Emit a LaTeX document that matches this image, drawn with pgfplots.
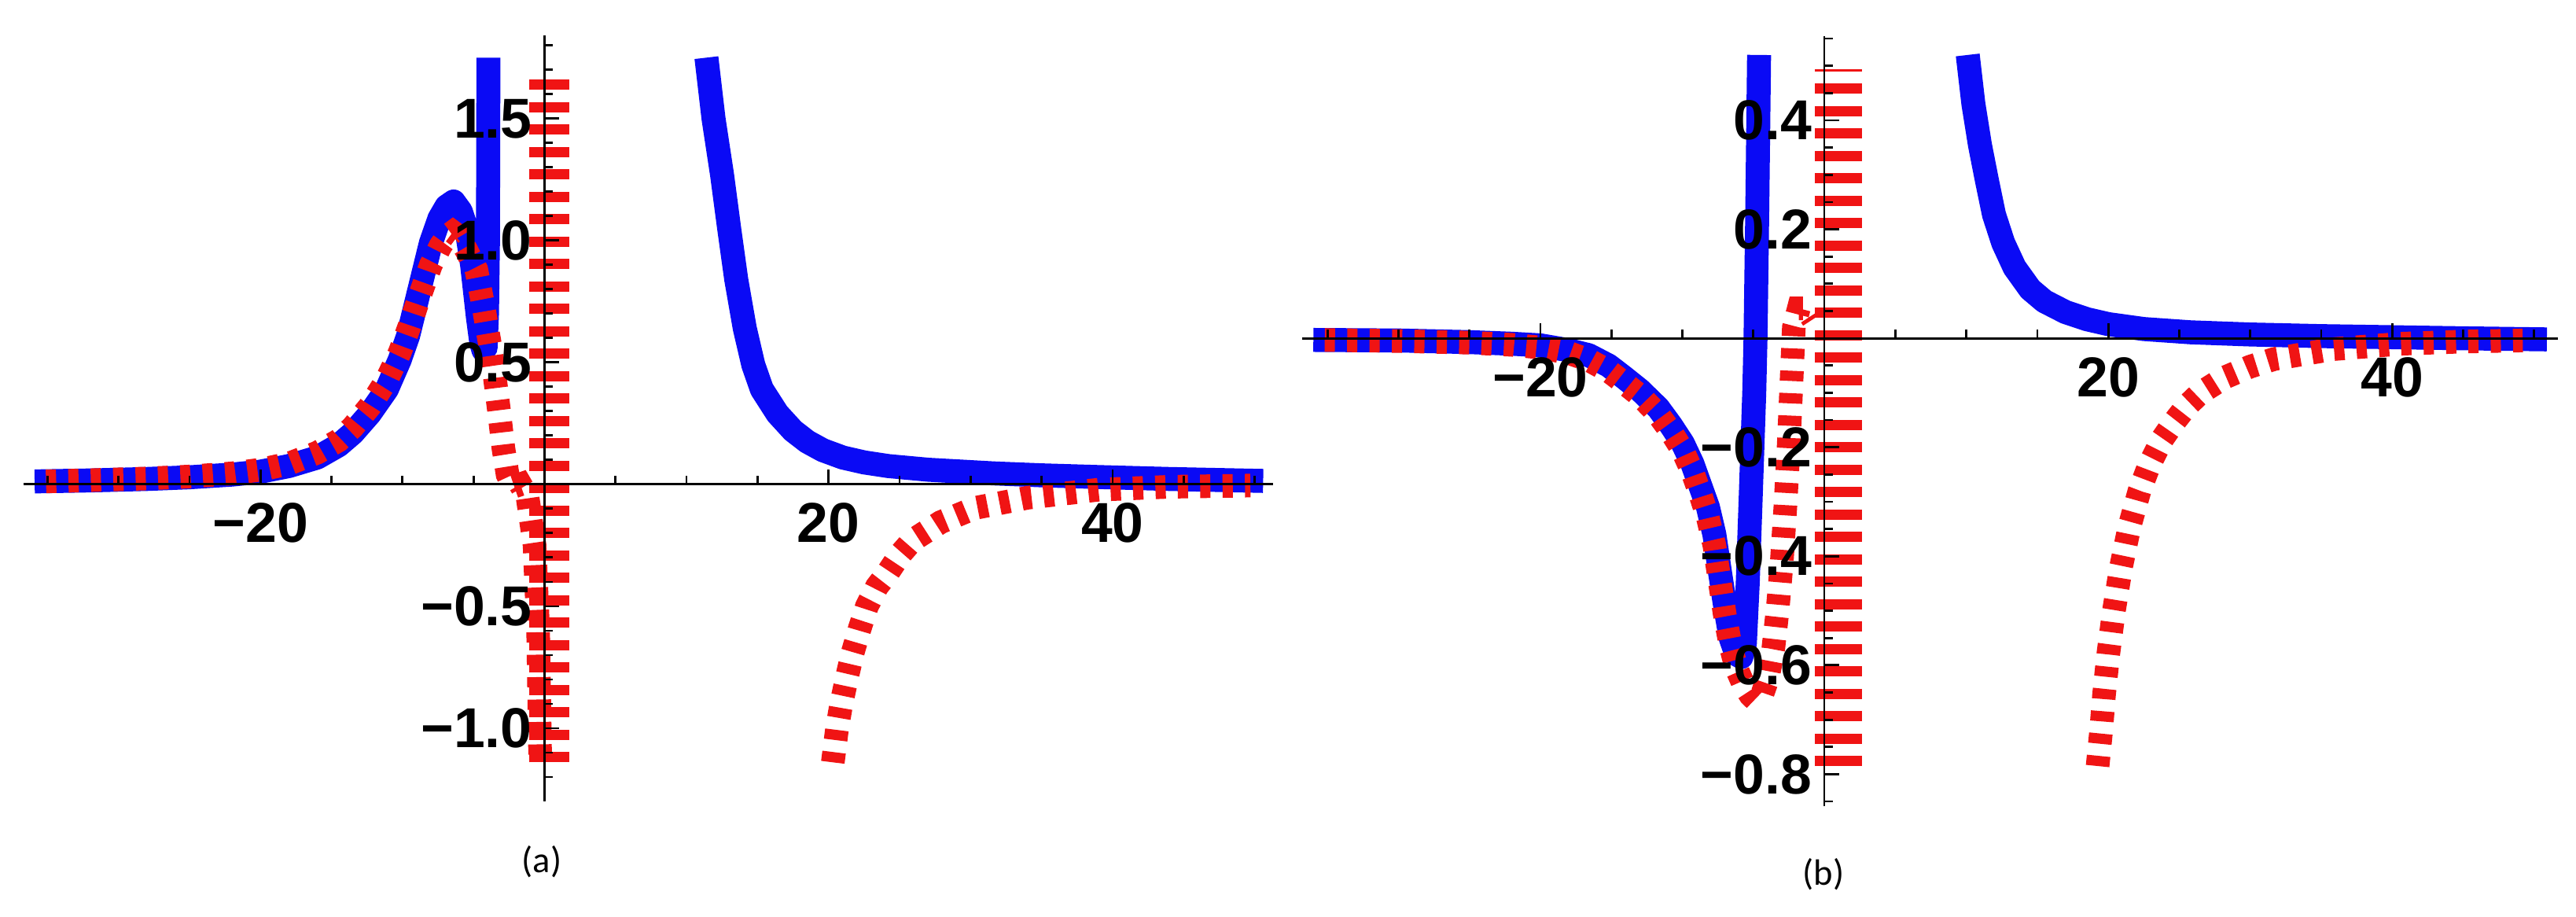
\documentclass[border=0pt]{standalone}
\usepackage{fontspec}
\setmainfont{Liberation Sans}
\newfontfamily\carlito{Carlito}
\usepackage{pgfplots}
\pgfplotsset{compat=1.18}
\definecolor{mblue}{RGB}{10,10,245}
\definecolor{mred}{RGB}{240,20,20}
\pgfplotsset{
  mystyle/.style={
    scale only axis, axis lines=middle, axis on top, clip=false,
    axis line style={line width=0.55pt, -, black},
    tick style={line width=0.55pt, black},
    tick align=inside,
    major tick length=3.8pt, minor tick length=2.2pt,
    every tick label/.append style={font=\bfseries\fontsize{14.3}{16}\selectfont, inner sep=0pt},
    xticklabel style={anchor=north, yshift=-4.6pt},
    yticklabel style={anchor=east, xshift=-3pt},
    xtick={-20,20,40}, xticklabels={−20,20,40},
    minor xtick={-35,-30,-25,-15,-10,-5,5,10,15,25,30,35,45,50},
  },
  bl/.style={mblue, line width=6.1pt, line join=round},
  rd/.style={mred, line width=6pt, dash pattern=on 2.6pt off 3.1pt},
}
\begin{document}
\begin{tikzpicture}
% ---------------- panel (a)
\begin{axis}[mystyle, at={(5.92pt,29.22pt)}, anchor=south west,
  width=317.9pt, height=194.7pt,
  xmin=-36.7, xmax=51.3, ymin=-1.3, ymax=1.84,
  ytick={-1,-0.5,0.5,1,1.5}, yticklabels={−1.0,−0.5,0.5,1.0,1.5},
  minor ytick={-1.2,-1.1,-0.9,-0.8,-0.7,-0.6,-0.4,-0.3,-0.2,-0.1,0.1,0.2,0.3,0.4,0.6,0.7,0.8,0.9,1.1,1.2,1.3,1.4,1.6,1.7,1.8}]
\addplot[bl] coordinates {(-35.9,0.012) (-32,0.016) (-28,0.022) (-25,0.029) (-22,0.040) (-20,0.052) (-18,0.075) (-16,0.11) (-14.5,0.16) (-13.5,0.21) (-12.3,0.29) (-11.1,0.39) (-10.2,0.51) (-9.6,0.61) (-8.8,0.80) (-8.0,0.99) (-7.4,1.09) (-6.9,1.14) (-6.4,1.16) (-5.9,1.12) (-5.5,1.05) (-5.1,0.90) (-4.7,0.69) (-4.45,0.58) (-4.3,0.55) (-4.15,0.56) (-4.05,0.70) (-3.98,1.0) (-3.95,1.75)};
\addplot[bl] coordinates {(11.4,1.75) (11.9,1.5) (12.5,1.27) (13.0,1.05) (13.5,0.84) (14.1,0.64) (14.7,0.49) (15.3,0.39) (16.4,0.29) (17.5,0.22) (18.5,0.175) (19.6,0.14) (21,0.11) (22.5,0.09) (24.2,0.075) (27,0.06) (31.6,0.045) (35,0.037) (39,0.03) (44,0.022) (50.6,0.014)};
\addplot[rd] coordinates {(-35.1,0.012) (-32,0.017) (-28,0.024) (-25,0.032) (-22,0.045) (-20,0.060) (-18,0.085) (-16,0.13) (-14.5,0.18) (-13.5,0.235) (-12.3,0.32) (-11.1,0.43) (-10.2,0.54) (-9.5,0.65) (-8.8,0.77) (-8.0,0.90) (-7.3,0.98) (-6.8,1.02) (-6.45,1.035) (-6.1,1.02) (-5.5,0.96) (-4.8,0.88) (-4.3,0.73) (-3.8,0.56) (-3.5,0.44) (-3.2,0.30) (-2.9,0.15) (-2.6,0.04) (-2.2,-0.01) (-1.7,0.0) (-1.2,-0.05) (-0.7,-0.25) (-0.45,-0.6) (-0.3,-1.14)};
\addplot[rd] coordinates {(-0.27,-1.14) (-0.27,1.70)};
\addplot[rd] coordinates {(0.89,-1.14) (0.89,1.70)};
\addplot[rd] coordinates {(20.3,-1.14) (20.6,-1.0) (20.9,-0.90) (21.3,-0.79) (21.7,-0.69) (22.2,-0.59) (22.7,-0.50) (23.4,-0.42) (24.2,-0.36) (25.0,-0.29) (25.9,-0.23) (27.9,-0.155) (30.3,-0.097) (34,-0.055) (39,-0.022) (44,-0.01) (49.7,-0.005)};
\end{axis}
% ---------------- panel (b)
\begin{axis}[mystyle, at={(331.16pt,27.94pt)}, anchor=south west,
  width=319.5pt, height=195.8pt,
  xmin=-36.8, xmax=51.7, ymin=-0.859, ymax=0.554,
  ytick={-0.8,-0.6,-0.4,-0.2,0.2,0.4}, yticklabels={−0.8,−0.6,−0.4,−0.2,0.2,0.4},
  minor ytick={-0.85,-0.75,-0.7,-0.65,-0.55,-0.5,-0.45,-0.35,-0.3,-0.25,-0.15,-0.1,-0.05,0.05,0.1,0.15,0.25,0.3,0.35,0.45,0.5,0.55}]
\addplot[bl] coordinates {(-36,-0.003) (-30,-0.004) (-25,-0.007) (-22,-0.010) (-20,-0.013) (-18,-0.022) (-16.6,-0.031) (-15.2,-0.05) (-14.2,-0.07) (-13,-0.095) (-11.7,-0.128) (-10.8,-0.16) (-9.97,-0.193) (-9.3,-0.23) (-8.75,-0.27) (-8.2,-0.31) (-7.75,-0.36) (-7.35,-0.43) (-7.0,-0.49) (-6.6,-0.55) (-6.2,-0.58) (-5.85,-0.585) (-5.6,-0.56) (-5.4,-0.45) (-5.2,-0.3) (-4.94,-0.10) (-4.85,0.0) (-4.72,0.25) (-4.6,0.52)};
\addplot[bl] coordinates {(10.1,0.52) (10.5,0.43) (10.96,0.355) (11.45,0.29) (11.95,0.227) (12.6,0.175) (13.4,0.13) (14.5,0.09) (15.5,0.068) (17,0.048) (18.5,0.035) (20,0.026) (22.5,0.017) (25.8,0.011) (30,0.007) (35,0.004) (40,0.002) (45,0.0) (50.9,-0.002)};
\addplot[rd] coordinates {(-35.2,-0.003) (-30,-0.005) (-25,-0.008) (-22,-0.012) (-20,-0.017) (-18,-0.027) (-16.6,-0.04) (-15.2,-0.06) (-14.2,-0.08) (-13,-0.105) (-11.7,-0.14) (-10.8,-0.172) (-10,-0.205) (-9.3,-0.245) (-8.75,-0.285) (-8.2,-0.33) (-7.75,-0.38) (-7.35,-0.45) (-7.0,-0.51) (-6.6,-0.565) (-6.2,-0.605) (-5.7,-0.635) (-5.2,-0.655) (-4.8,-0.665) (-4.4,-0.655) (-4.0,-0.625) (-3.6,-0.57) (-3.3,-0.50) (-3.0,-0.41) (-2.75,-0.31) (-2.5,-0.19) (-2.3,-0.07) (-2.15,0.02) (-1.8,0.055) (-1.3,0.055) (-0.8,0.035)};
\addplot[rd] coordinates {(0.15,-0.785) (0.15,0.494)};
\addplot[rd] coordinates {(1.8,-0.785) (1.8,0.494)};
\addplot[rd] coordinates {(19.25,-0.785) (19.5,-0.72) (19.7,-0.655) (20.0,-0.58) (20.4,-0.50) (20.9,-0.42) (21.5,-0.345) (22.2,-0.28) (22.9,-0.232) (23.8,-0.185) (24.6,-0.155) (25.5,-0.125) (26.5,-0.10) (28.2,-0.072) (30,-0.052) (31.7,-0.038) (35.8,-0.02) (40.6,-0.01) (45,-0.006) (49.2,-0.004)};
\end{axis}
\node[inner sep=0pt] at (137.8pt,13.9pt) {\carlito\fontsize{9.3}{11}\selectfont (a)};
\node[inner sep=0pt] at (463.8pt,10.6pt) {\carlito\fontsize{9.3}{11}\selectfont (b)};
\pgfresetboundingbox
\path[use as bounding box] (0,0) rectangle (655.2pt,233pt);
\end{tikzpicture}
\end{document}
